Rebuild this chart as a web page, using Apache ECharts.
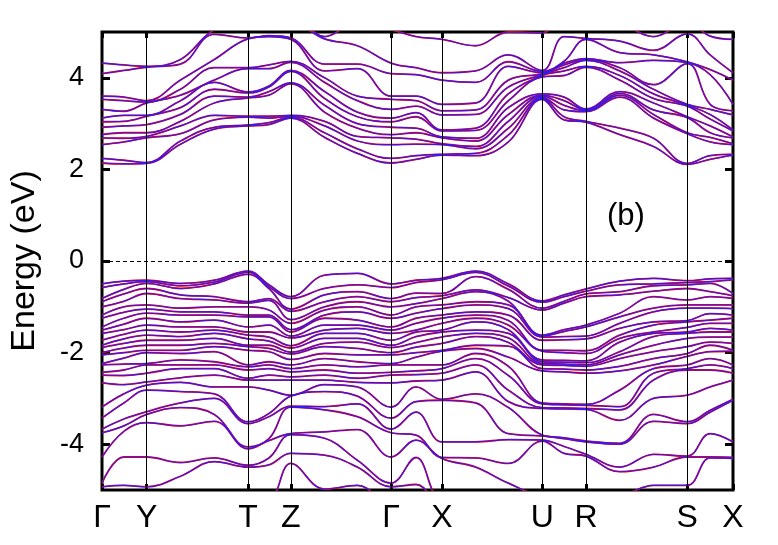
<!DOCTYPE html>
<html>
<head>
<meta charset="utf-8">
<script src="https://cdn.jsdelivr.net/npm/echarts@6/dist/echarts.min.js"></script>
<style>
  html, body { margin: 0; padding: 0; background: #fff; }
  #chart { width: 778px; height: 545px; }
</style>
</head>
<body>
<div id="chart"></div>
<script>
// high-symmetry points (k distance) and their labels
const kTicks = [0, 45, 147, 190, 291, 342, 443, 487, 589, 635];
const kLabels = ['Γ', 'Y', 'T', 'Z', 'Γ', 'X', 'U', 'R', 'S', 'X'];
const yTicks = [-4, -2, 0, 2, 4];

const kPath = [0, 22, 45, 79, 113, 147, 168, 190, 224, 257, 291, 316, 342, 376, 409, 443, 465, 487, 521, 555, 589, 612, 635];

// conduction band energies (eV) at each k point
const cbG = [2.14, 2.24, 2.54, 2.69, 2.76, 2.92, 3.04, 3.12, 3.31, 3.53, 3.60, 4.09, 4.32, 5.05, 5.4];
const cbGY = [2.12, 2.2, 2.6, 2.68, 2.8, 2.95, 3.05, 3.18, 3.27, 3.5, 3.58, 4.16, 4.28, 5.2, 5.5];
const cbY = [2.13, 2.15, 2.69, 2.72, 2.80, 2.98, 3.16, 3.18, 3.45, 3.47, 3.5, 4.23, 4.25, 5.3, 5.5];
const cbYT1 = [2.55, 2.62, 2.78, 2.95, 3.05, 3.2, 3.35, 3.5, 3.62, 3.75, 3.95, 4.3, 4.4, 5.2, 5.5];
const cbYT2 = [2.88, 2.92, 3.08, 3.18, 3.45, 3.6, 3.75, 3.9, 3.95, 4.22, 4.4, 4.95, 5.05, 5.2, 5.5];
const cbT = [2.95, 2.97, 3.14, 3.16, 3.56, 3.58, 3.67, 3.69, 4.2, 4.22, 4.85, 4.87, 5.2, 5.4, 5.6];
const cbTZ = [2.98, 3.02, 3.12, 3.16, 3.62, 3.7, 3.8, 3.82, 4.2, 4.28, 4.9, 4.92, 5.2, 5.4, 5.6];
const cbZ = [3.12, 3.14, 3.16, 3.18, 3.87, 3.89, 4.14, 4.16, 4.34, 4.36, 4.84, 4.87, 5.2, 5.4, 5.6];
const cbZG1 = [2.7, 2.8, 2.95, 3.05, 3.25, 3.4, 3.55, 3.7, 3.9, 4.0, 4.15, 4.3, 4.85, 4.9, 5.3];
const cbZG2 = [2.35, 2.45, 2.62, 2.72, 2.9, 3.0, 3.15, 3.25, 3.5, 3.6, 4.2, 4.3, 4.7, 5.2, 5.5];
const cbGX = [2.22, 2.3, 2.55, 2.66, 2.8, 2.9, 3.15, 3.24, 3.38, 3.5, 3.6, 4.07, 4.22, 4.9, 5.4];
const cbX = [2.31, 2.33, 2.54, 2.56, 2.69, 2.71, 2.84, 2.86, 3.19, 3.28, 3.42, 3.95, 4.11, 4.84, 5.4];
const cbXU1 = [2.3, 2.35, 2.45, 2.5, 2.62, 2.68, 2.85, 2.9, 3.2, 3.3, 3.45, 3.9, 4.15, 4.7, 5.2];
const cbXU2 = [2.6, 2.75, 2.9, 3.05, 3.2, 3.35, 3.5, 3.65, 3.8, 3.95, 4.25, 4.35, 4.5, 5.0, 5.3];
const cbU = [3.53, 3.55, 3.57, 3.6, 3.62, 3.65, 4.02, 4.05, 4.07, 4.09, 4.11, 4.14, 4.16, 4.98, 5.3];
const cbUR = [3.08, 3.15, 3.3, 3.4, 3.5, 3.58, 4.05, 4.15, 4.22, 4.28, 4.32, 4.36, 4.9, 5.3, 5.5];
const cbR = [3.03, 3.05, 3.26, 3.28, 3.3, 3.32, 4.23, 4.25, 4.38, 4.4, 4.42, 4.84, 4.86, 5.3, 5.5];
const cbRS1 = [2.76, 2.9, 3.58, 3.62, 3.66, 3.7, 3.95, 4.05, 4.15, 4.22, 4.33, 4.55, 4.8, 5.2, 5.4];
const cbRS2 = [2.5, 2.68, 3.12, 3.2, 3.3, 3.45, 3.55, 3.65, 3.75, 3.85, 4.38, 4.5, 4.6, 4.9, 5.4];
const cbS = [2.11, 2.13, 2.78, 2.8, 3.13, 3.15, 3.38, 3.4, 3.42, 4.31, 4.33, 4.35, 4.96, 5.2, 5.4];
const cbSX = [2.22, 2.3, 2.6, 2.7, 2.8, 2.95, 3.1, 3.2, 3.31, 3.42, 4.07, 4.18, 4.5, 4.91, 5.4];

// valence band energies (eV) at each k point
const vbG = [-0.50, -0.58, -0.82, -0.89, -1.00, -1.18, -1.25, -1.44, -1.51, -1.58, -1.73, -1.84, -1.89, -2.00, -2.05, -2.24, -2.27, -2.43, -2.49, -2.66, -3.19, -3.43, -3.67, -3.75, -4.28, -4.85, -4.93, -5.3];
const vbGY = [-0.44, -0.5, -0.62, -0.72, -0.88, -1.0, -1.12, -1.25, -1.38, -1.5, -1.6, -1.7, -1.8, -1.9, -2.0, -2.12, -2.25, -2.38, -2.5, -2.7, -2.9, -3.1, -3.45, -3.6, -3.72, -4.28, -4.9, -5.25];
const vbY = [-0.42, -0.45, -0.49, -0.60, -0.71, -0.96, -1.05, -1.14, -1.25, -1.40, -1.51, -1.62, -1.73, -1.84, -1.95, -2.0, -2.24, -2.27, -2.45, -2.64, -2.71, -2.82, -3.29, -3.35, -3.53, -4.28, -4.93, -5.2];
const vbYT1 = [-0.49, -0.54, -0.6, -0.74, -0.82, -1.03, -1.11, -1.18, -1.33, -1.44, -1.55, -1.65, -1.73, -1.84, -1.95, -2.02, -2.16, -2.27, -2.35, -2.55, -2.65, -2.85, -3.1, -3.2, -3.6, -4.4, -4.7, -5.1];
const vbYT2 = [-0.42, -0.46, -0.5, -0.78, -0.85, -1.0, -1.11, -1.18, -1.29, -1.44, -1.51, -1.58, -1.69, -1.8, -1.87, -1.98, -2.2, -2.27, -2.35, -2.49, -2.75, -2.9, -3.0, -3.35, -3.5, -4.3, -4.38, -5.05];
const vbT = [-0.22, -0.25, -0.29, -0.89, -0.92, -1.0, -1.18, -1.22, -1.44, -1.55, -1.62, -1.7, -1.84, -1.87, -1.95, -2.27, -2.31, -2.38, -2.56, -2.6, -2.75, -3.51, -3.55, -4.06, -4.1, -4.46, -4.5, -5.2];
const vbTZ = [-0.52, -0.56, -0.6, -0.82, -0.86, -1.07, -1.18, -1.22, -1.40, -1.55, -1.66, -1.75, -1.84, -1.91, -1.98, -2.2, -2.27, -2.35, -2.49, -2.6, -2.82, -3.33, -3.4, -3.88, -3.92, -4.3, -4.45, -5.2];
const vbZ = [-0.78, -0.82, -1.05, -1.1, -1.28, -1.36, -1.5, -1.55, -1.64, -1.68, -1.85, -1.9, -1.99, -2.03, -2.15, -2.27, -2.35, -2.42, -2.53, -2.6, -2.93, -2.95, -3.17, -3.19, -3.77, -3.79, -4.2, -4.42];
const vbZG1 = [-0.31, -0.6, -0.74, -0.89, -1.0, -1.07, -1.18, -1.25, -1.4, -1.51, -1.58, -1.69, -1.8, -1.87, -2.02, -2.13, -2.27, -2.38, -2.49, -2.6, -2.7, -2.85, -3.18, -3.25, -3.73, -3.87, -4.24, -4.98];
const vbZG2 = [-0.27, -0.52, -0.67, -0.78, -0.89, -1.0, -1.11, -1.29, -1.4, -1.47, -1.58, -1.69, -1.77, -1.91, -2.05, -2.2, -2.31, -2.45, -2.56, -2.65, -2.75, -2.95, -3.12, -3.4, -3.68, -4.35, -4.5, -4.9];
const vbGX = [-0.42, -0.47, -0.7, -0.8, -0.93, -1.0, -1.14, -1.25, -1.36, -1.51, -1.55, -1.65, -1.78, -1.88, -2.0, -2.1, -2.27, -2.4, -2.48, -2.62, -2.75, -3.07, -3.3, -3.8, -3.91, -4.29, -4.88, -5.2];
const vbX = [-0.38, -0.41, -0.71, -0.76, -0.82, -0.96, -1.04, -1.18, -1.25, -1.36, -1.51, -1.55, -1.66, -1.80, -1.95, -1.97, -2.27, -2.35, -2.45, -2.6, -3.02, -3.04, -3.95, -4.29, -4.31, -5.2, -5.3, -5.4];
const vbXU1 = [-0.22, -0.25, -0.34, -0.63, -0.67, -0.89, -0.96, -1.11, -1.18, -1.25, -1.33, -1.51, -1.58, -1.65, -1.84, -1.91, -2.02, -2.13, -2.27, -2.42, -2.9, -3.1, -3.95, -4.3, -4.5, -5.2, -5.3, -5.4];
const vbXU2 = [-0.5, -0.55, -0.62, -0.8, -0.88, -0.96, -1.04, -1.18, -1.3, -1.4, -1.5, -1.58, -1.68, -1.78, -1.86, -2.1, -2.3, -2.5, -2.82, -3.07, -3.2, -3.77, -3.9, -4.42, -4.85, -5.1, -5.2, -5.3];
const vbU = [-0.87, -0.9, -1.03, -1.07, -1.62, -1.64, -1.66, -1.73, -1.95, -1.97, -2.16, -2.2, -2.24, -2.27, -2.35, -2.4, -3.1, -3.12, -3.2, -3.22, -3.8, -3.82, -3.91, -3.93, -5.1, -5.2, -5.3, -5.4];
const vbUR = [-0.74, -0.78, -0.88, -0.92, -1.5, -1.54, -1.65, -1.72, -1.95, -2.0, -2.17, -2.21, -2.25, -2.28, -2.36, -2.42, -3.12, -3.14, -3.21, -3.23, -3.86, -3.88, -4.05, -4.2, -5.1, -5.2, -5.3, -5.4];
const vbR = [-0.61, -0.66, -0.72, -0.78, -1.4, -1.44, -1.64, -1.7, -1.96, -2.02, -2.18, -2.22, -2.27, -2.3, -2.38, -2.45, -3.13, -3.15, -3.22, -3.24, -3.93, -3.95, -4.22, -4.26, -5.1, -5.2, -5.3, -5.4];
const vbRS1 = [-0.44, -0.52, -0.67, -0.74, -1.14, -1.22, -1.36, -1.47, -1.62, -1.69, -1.77, -1.98, -2.05, -2.13, -2.3, -2.4, -2.82, -3.18, -3.25, -3.48, -3.98, -4.0, -4.5, -4.6, -5.1, -5.2, -5.3, -5.4];
const vbRS2 = [-0.38, -0.5, -0.54, -0.66, -0.78, -1.03, -1.11, -1.33, -1.4, -1.55, -1.58, -1.65, -1.84, -1.98, -2.13, -2.27, -2.35, -2.45, -2.6, -3.0, -3.35, -3.5, -4.22, -4.5, -4.9, -5.2, -5.3, -5.4];
const vbS = [-0.43, -0.47, -0.52, -0.6, -0.85, -0.96, -1.03, -1.3, -1.33, -1.45, -1.55, -1.58, -1.69, -1.87, -2.02, -2.08, -2.27, -2.35, -2.38, -2.93, -3.51, -3.55, -4.26, -4.28, -4.9, -5.2, -5.3, -5.4];
const vbSX = [-0.39, -0.45, -0.49, -0.67, -0.78, -0.96, -1.03, -1.15, -1.29, -1.36, -1.47, -1.55, -1.66, -1.77, -1.84, -1.98, -2.13, -2.27, -2.38, -2.75, -3.26, -3.3, -3.77, -4.28, -4.3, -5.1, -5.3, -5.4];

const cbCols = [cbG, cbGY, cbY, cbYT1, cbYT2, cbT, cbTZ, cbZ, cbZG1, cbZG2, cbG, cbGX, cbX,
  cbXU1, cbXU2, cbU, cbUR, cbR, cbRS1, cbRS2, cbS, cbSX, cbX];
const vbCols = [vbG, vbGY, vbY, vbYT1, vbYT2, vbT, vbTZ, vbZ, vbZG1, vbZG2, vbG, vbGX, vbX,
  vbXU1, vbXU2, vbU, vbUR, vbR, vbRS1, vbRS2, vbS, vbSX, vbX];

// band i = i-th energy at every k point
const toBands = (cols) => {
  const sorted = cols.map((c) => c.slice().sort((a, b) => a - b));
  const n = Math.min(...sorted.map((c) => c.length));
  const bands = [];
  for (let b = 0; b < n; b++) {
    bands.push(kPath.map((k, i) => [k, sorted[i][b]]));
  }
  return bands;
};
const bands = toBands(cbCols).concat(toBands(vbCols));

const font = 'Liberation Sans, Arial, Helvetica, sans-serif';
const labelOf = (v) => kLabels[kTicks.indexOf(v)] || '';

const bandSeries = (color, width) =>
  bands.map((data) => ({
    type: 'line',
    data: data,
    smooth: 0.4,
    symbol: 'none',
    silent: true,
    clip: true,
    lineStyle: { color: color, width: width },
  }));

const tickStyle = { color: '#000', width: 3 };

const chart = echarts.init(document.getElementById('chart'));
const option = {
  animation: false,
  backgroundColor: '#fff',
  grid: {
    left: 98, right: 45, top: 32, bottom: 55,
    show: true, borderColor: '#000', borderWidth: 3,
  },
  xAxis: [
    {
      type: 'value', min: 0, max: 635, position: 'bottom',
      axisLine: { show: false, onZero: false },
      splitLine: { show: false },
      axisTick: { inside: true, length: 6, lineStyle: tickStyle, customValues: kTicks },
      axisLabel: {
        customValues: kTicks, formatter: labelOf, margin: 12,
        color: '#000', fontSize: 32, fontFamily: font,
      },
    },
    {
      type: 'value', min: 0, max: 635, position: 'top',
      axisLine: { show: false, onZero: false },
      splitLine: { show: false },
      axisTick: { inside: true, length: 6, lineStyle: tickStyle, customValues: kTicks },
      axisLabel: { show: false },
    },
  ],
  yAxis: [
    {
      type: 'value', min: -5, max: 5,
      name: 'Energy (eV)', nameLocation: 'middle', nameGap: 60,
      nameTextStyle: { color: '#000', fontSize: 34, fontFamily: font },
      axisLine: { show: false, onZero: false },
      splitLine: { show: false },
      axisTick: { inside: true, length: 8, lineStyle: tickStyle, customValues: yTicks },
      axisLabel: {
        customValues: yTicks, margin: 18,
        color: '#000', fontSize: 27, fontFamily: font,
      },
    },
    {
      type: 'value', min: -5, max: 5, position: 'right',
      axisLine: { show: false, onZero: false },
      splitLine: { show: false },
      axisTick: { inside: true, length: 8, lineStyle: tickStyle, customValues: yTicks },
      axisLabel: { show: false },
    },
  ],
  title: {
    text: '(b)', left: 602, top: 196,
    textStyle: { color: '#000', fontSize: 31, fontWeight: 'normal', fontFamily: font },
  },
  series: [
    {
      type: 'line',
      data: [],
      silent: true,
      markLine: {
        silent: true,
        symbol: 'none',
        label: { show: false },
        lineStyle: { color: '#000', width: 1, type: 'solid' },
        data: kTicks.slice(1, -1).map((k) => ({ xAxis: k }))
          .concat([{ yAxis: 0, lineStyle: { type: [4, 3], color: '#000', width: 1 } }]),
      },
    },
  ]
    .concat(bandSeries('#ff0000', 1.8))
    .concat(bandSeries('#2a1aff', 1.1)),
};
chart.setOption(option);
</script>
</body>
</html>
